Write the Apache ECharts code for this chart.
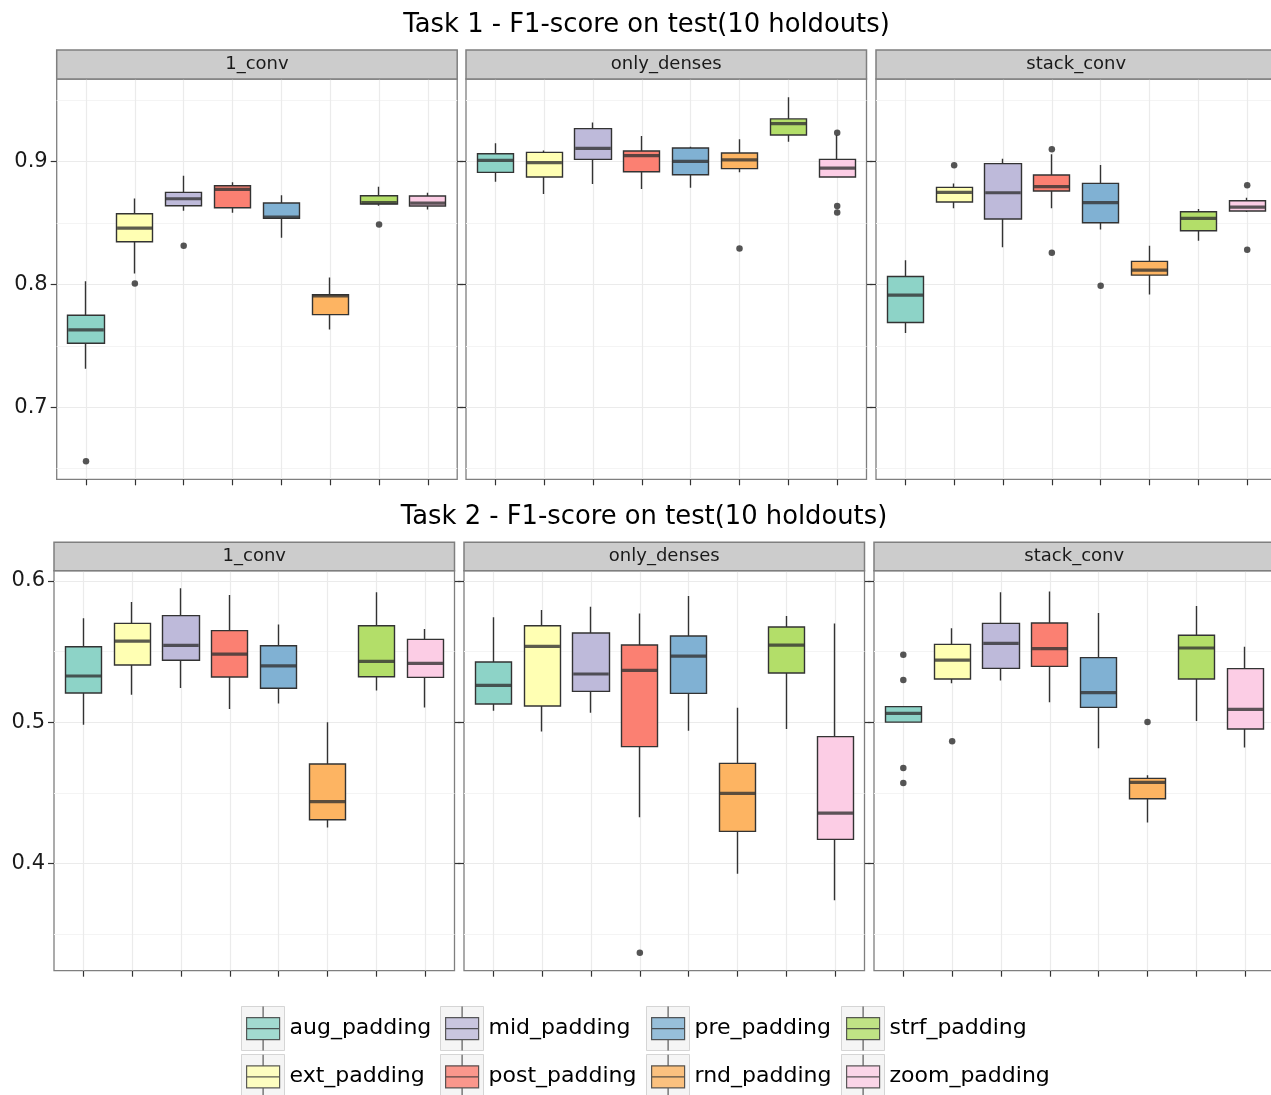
<!DOCTYPE html>
<html>
<head>
<meta charset="utf-8">
<script src="https://cdn.jsdelivr.net/npm/echarts@6/dist/echarts.min.js"></script>
<style>
html,body{margin:0;padding:0;background:#fff;}
#chart{width:1271px;height:1095px;}
</style>
</head>
<body>
<div id="chart"></div>
<script>
// ---------------- data ----------------
const categories = ['aug_padding','ext_padding','mid_padding','post_padding','pre_padding','rnd_padding','strf_padding','zoom_padding'];
const models = ['1_conv','only_denses','stack_conv'];
const taskTitles = ['Task 1 - F1-score on test(10 holdouts)','Task 2 - F1-score on test(10 holdouts)'];
const colors = ['#8DD3C7','#FFFFB3','#BEBADA','#FB8072','#80B1D3','#FDB462','#B3DE69','#FCCDE5'];

const task1Ticks = [0.7, 0.8, 0.9];
const task1Minor = [0.65, 0.75, 0.85, 0.95];
const task1Range = [0.6414, 0.9673];
const task2Ticks = [0.4, 0.5, 0.6];
const task2Minor = [0.35, 0.45, 0.55];
const task2Range = [0.3243, 0.6073];

// each row: [lower whisker, Q1, median, Q3, upper whisker], in categories order
const task1_1conv = [
  [0.7315, 0.7522, 0.7630, 0.7750, 0.8027],
  [0.8090, 0.8348, 0.8459, 0.8576, 0.8700],
  [0.8600, 0.8641, 0.8698, 0.8750, 0.8886],
  [0.8584, 0.8625, 0.8774, 0.8804, 0.8832],
  [0.8380, 0.8538, 0.8549, 0.8663, 0.8726],
  [0.7633, 0.7755, 0.7908, 0.7916, 0.8057],
  [0.8641, 0.8655, 0.8666, 0.8723, 0.8796],
  [0.8611, 0.8639, 0.8663, 0.8720, 0.8747]
];
const task1_1conv_outliers = [['aug_padding',0.656],['ext_padding',0.8008],['mid_padding',0.8315],['strf_padding',0.8489]];

const task1_dense = [
  [0.8837, 0.8913, 0.9011, 0.9065, 0.9150],
  [0.8736, 0.8875, 0.8992, 0.9076, 0.9090],
  [0.8818, 0.9019, 0.9109, 0.9269, 0.9318],
  [0.8777, 0.8918, 0.9049, 0.9087, 0.9209],
  [0.8788, 0.8894, 0.9003, 0.9111, 0.9122],
  [0.8913, 0.8943, 0.9014, 0.9071, 0.9182],
  [0.9163, 0.9217, 0.9310, 0.9348, 0.9524],
  [0.8875, 0.8875, 0.8948, 0.9019, 0.9215]
];
const task1_dense_outliers = [['rnd_padding',0.8293],['zoom_padding',0.9236],['zoom_padding',0.8639],['zoom_padding',0.8587]];

const task1_stack = [
  [0.7606, 0.7690, 0.7913, 0.8065, 0.8198],
  [0.8620, 0.8671, 0.8750, 0.8791, 0.8823],
  [0.8304, 0.8533, 0.8747, 0.8984, 0.9024],
  [0.8620, 0.8761, 0.8796, 0.8891, 0.9060],
  [0.8448, 0.8503, 0.8666, 0.8823, 0.8973],
  [0.7918, 0.8076, 0.8117, 0.8188, 0.8315],
  [0.8356, 0.8437, 0.8538, 0.8592, 0.8614],
  [0.8590, 0.8598, 0.8630, 0.8682, 0.8707]
];
const task1_stack_outliers = [['ext_padding',0.8970],['post_padding',0.9101],['post_padding',0.8258],['pre_padding',0.7989],['zoom_padding',0.8807],['zoom_padding',0.8283]];

const task2_1conv = [
  [0.4983, 0.5208, 0.5328, 0.5535, 0.5736],
  [0.5196, 0.5406, 0.5575, 0.5700, 0.5851],
  [0.5243, 0.5439, 0.5545, 0.5755, 0.5948],
  [0.5094, 0.5321, 0.5483, 0.5649, 0.5901],
  [0.5134, 0.5241, 0.5399, 0.5542, 0.5693],
  [0.4257, 0.4311, 0.4439, 0.4705, 0.5000],
  [0.5226, 0.5323, 0.5432, 0.5684, 0.5920],
  [0.5106, 0.5318, 0.5417, 0.5587, 0.5660]
];
const task2_1conv_outliers = [];

const task2_dense = [
  [0.5083, 0.5130, 0.5262, 0.5427, 0.5743],
  [0.4936, 0.5116, 0.5538, 0.5684, 0.5795],
  [0.5068, 0.5219, 0.5342, 0.5632, 0.5818],
  [0.4328, 0.4828, 0.5368, 0.5547, 0.5771],
  [0.4941, 0.5205, 0.5469, 0.5611, 0.5894],
  [0.3929, 0.4229, 0.4498, 0.4710, 0.5104],
  [0.4953, 0.5349, 0.5547, 0.5675, 0.5752],
  [0.3741, 0.4172, 0.4358, 0.4899, 0.5700]
];
const task2_dense_outliers = [['post_padding',0.337]];

const task2_stack = [
  [0.5002, 0.5002, 0.5064, 0.5111, 0.5111],
  [0.5276, 0.5307, 0.5441, 0.5552, 0.5665],
  [0.5297, 0.5382, 0.5559, 0.5700, 0.5920],
  [0.5142, 0.5396, 0.5521, 0.5703, 0.5925],
  [0.4816, 0.5106, 0.5210, 0.5458, 0.5774],
  [0.4292, 0.4460, 0.4575, 0.4604, 0.4625],
  [0.5009, 0.5307, 0.5526, 0.5616, 0.5823],
  [0.4823, 0.4953, 0.5092, 0.5380, 0.5535]
];
const task2_stack_outliers = [['aug_padding',0.5479],['aug_padding',0.5300],['aug_padding',0.4677],['aug_padding',0.4571],['ext_padding',0.4866],['rnd_padding',0.5002]];

// ---------------- layout ----------------
const FONT = 'DejaVu Sans';
const panelW = 400.5;
const rows = [
  {top: 79, height: 400.3, lefts: [56.7, 466, 876], stripTop: 50, stripH: 29, titleY: 25.5, titleX: 646.5,
   ticks: task1Ticks, minor: task1Minor, range: task1Range,
   panels: [[task1_1conv, task1_1conv_outliers],[task1_dense, task1_dense_outliers],[task1_stack, task1_stack_outliers]]},
  {top: 570.7, height: 400, lefts: [54, 464, 874], stripTop: 542.3, stripH: 28.4, titleY: 517.5, titleX: 644,
   ticks: task2Ticks, minor: task2Minor, range: task2Range,
   panels: [[task2_1conv, task2_1conv_outliers],[task2_dense, task2_dense_outliers],[task2_stack, task2_stack_outliers]]}
];
const xPos = categories.map((c, i) => i + 1);

const grid = [], xAxis = [], yAxis = [], series = [], graphic = [];
const tickStyle = {color: '#333333', width: 1.2};

rows.forEach((row, r) => {
  graphic.push({type: 'text', x: row.titleX, y: row.titleY, silent: true,
    style: {text: taskTitles[r], fontSize: 25.8, fontFamily: FONT, fill: '#000', textAlign: 'center', textVerticalAlign: 'middle'}});
  row.panels.forEach((pan, c) => {
    const p = r * 3 + c;
    const left = row.lefts[c];
    grid.push({left: left, top: row.top, width: panelW, height: row.height, show: true,
      outerBoundsMode: 'none', containLabel: false,
      backgroundColor: '#ffffff', borderColor: '#7f7f7f', borderWidth: 1.3});
    xAxis.push({type: 'value', gridIndex: p, min: 0.4, max: 8.6, position: 'bottom',
      axisLine: {show: false, onZero: false},
      axisTick: {show: true, length: 6, lineStyle: tickStyle, customValues: xPos},
      axisLabel: {show: false, customValues: xPos},
      splitLine: {show: true, lineStyle: {color: '#ebebeb', width: 1.2}}});
    // left axis: labels (first column), ticks, major grid
    yAxis.push({type: 'value', gridIndex: p, min: row.range[0], max: row.range[1], position: 'left',
      axisLine: {show: false},
      axisTick: {show: true, length: 6, lineStyle: tickStyle, customValues: row.ticks},
      axisLabel: {show: c === 0, customValues: row.ticks, fontSize: 21, fontFamily: FONT, color: '#1a1a1a', margin: 9,
        formatter: v => v.toFixed(1)},
      splitLine: {show: true, lineStyle: {color: '#ebebeb', width: 1.2}}});
    // right axis: ticks only
    yAxis.push({type: 'value', gridIndex: p, min: row.range[0], max: row.range[1], position: 'right',
      axisLine: {show: false},
      axisTick: {show: true, length: 6, lineStyle: tickStyle, customValues: row.ticks},
      axisLabel: {show: false, customValues: row.ticks},
      splitLine: {show: false}});
    // minor grid lines
    yAxis.push({type: 'value', gridIndex: p, min: row.range[0], max: row.range[1], position: 'left',
      axisLine: {show: false},
      axisTick: {show: false, customValues: row.minor},
      axisLabel: {show: false, customValues: row.minor},
      splitLine: {show: true, lineStyle: {color: '#f4f4f4', width: 1}}});

    const stats = pan[0], outs = pan[1];
    series.push({type: 'candlestick', xAxisIndex: p, yAxisIndex: p * 3, barWidth: 36.7, silent: true,
      data: stats.map((s, i) => ({value: [xPos[i], s[1], s[3], s[0], s[4]],
        itemStyle: {color: colors[i], color0: colors[i], borderColor: '#333333', borderColor0: '#333333',
          borderColorDoji: '#333333', borderWidth: 1.4}}))});
    series.push({type: 'scatter', xAxisIndex: p, yAxisIndex: p * 3, silent: true, symbol: 'rect',
      symbolSize: [35.5, 3.2], itemStyle: {color: '#333333'},
      data: stats.map((s, i) => [xPos[i], s[2]])});
    series.push({type: 'scatter', xAxisIndex: p, yAxisIndex: p * 3, silent: true, symbol: 'circle',
      symbolSize: 6.5, itemStyle: {color: '#2b2b2b'},
      data: outs.map(o => [categories.indexOf(o[0]) + 1, o[1]])});

    // facet strip
    graphic.push({type: 'rect', silent: true, z: 10,
      shape: {x: left, y: row.stripTop, width: panelW, height: row.stripH},
      style: {fill: '#cccccc', stroke: '#7f7f7f', lineWidth: 1.5}});
    graphic.push({type: 'text', silent: true, z: 11, x: left + panelW / 2, y: row.stripTop + row.stripH / 2,
      style: {text: models[c], fontSize: 18, fontFamily: FONT, fill: '#1a1a1a', textAlign: 'center', textVerticalAlign: 'middle'}});
  });
});

// legend-only series (no data)
categories.forEach((cat, i) => {
  series.push({type: 'scatter', name: cat, xAxisIndex: 0, yAxisIndex: 0, data: [], itemStyle: {color: colors[i]}});
});

const legendCols = [[0, 1], [2, 3], [4, 5], [6, 7]];
const legendLefts = [241, 440, 646, 841];
const legend = [];
legendCols.forEach((idx, k) => {
  legend.push({orient: 'vertical', left: legendLefts[k], top: 1006, width: 230, height: 120, padding: 0, itemGap: 3,
    itemWidth: 43, itemHeight: 44, icon: 'rect', selectedMode: false, z: 4,
    itemStyle: {color: '#f2f2f2', borderColor: '#cccccc', borderWidth: 1},
    textStyle: {fontSize: 22, fontFamily: FONT, color: '#000'},
    data: idx.map(i => categories[i])});
  legend.push({orient: 'vertical', left: legendLefts[k] + 5, top: 1006, width: 230, height: 120, padding: 0, itemGap: 3,
    itemWidth: 33, itemHeight: 44, icon: 'path://M16.5,0V11M0,11H33V33H0ZM0,22H33M16.5,33V44',
    selectedMode: false, z: 5,
    itemStyle: {borderColor: '#333333', borderWidth: 1.2},
    textStyle: {fontSize: 22, fontFamily: FONT, color: 'rgba(0,0,0,0)'},
    data: idx.map(i => categories[i])});
});

const chart = echarts.init(document.getElementById('chart'), null, {renderer: 'canvas'});
chart.setOption({
  animation: false,
  backgroundColor: '#ffffff',
  textStyle: {fontFamily: FONT},
  grid: grid, xAxis: xAxis, yAxis: yAxis, series: series, legend: legend, graphic: graphic
});
</script>
</body>
</html>
